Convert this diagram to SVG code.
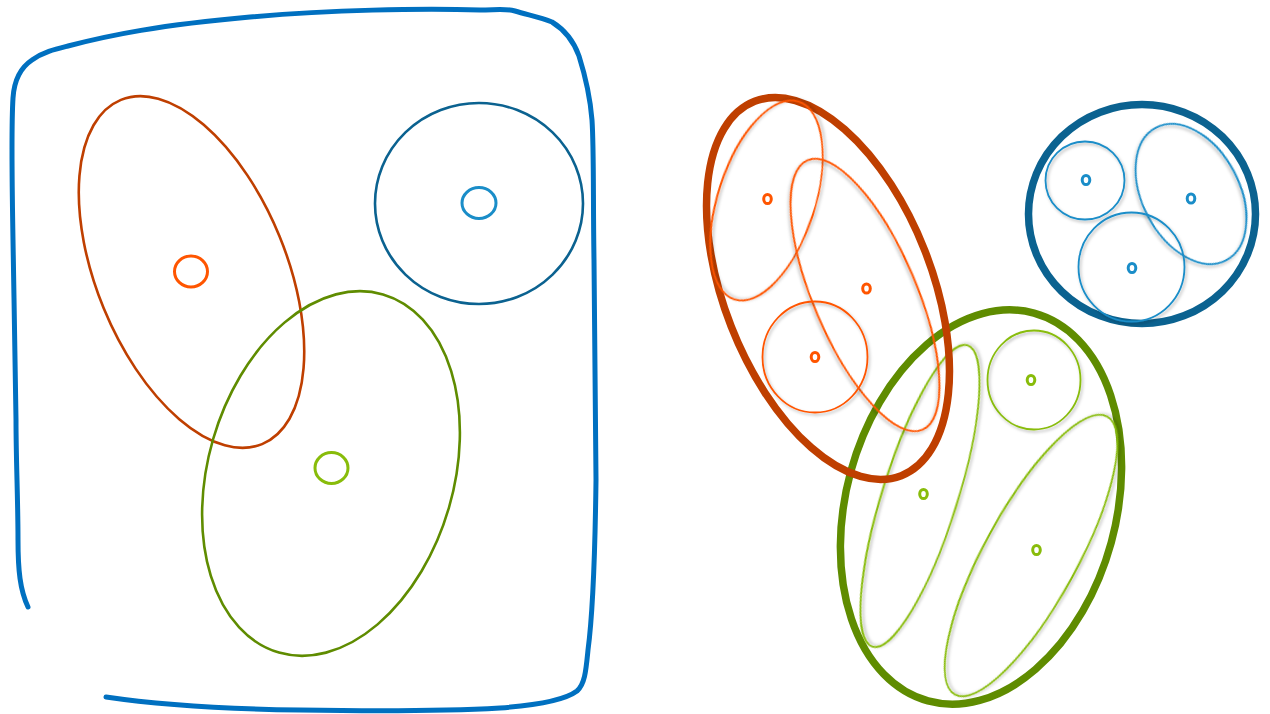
<svg xmlns="http://www.w3.org/2000/svg" width="1270" height="714" viewBox="0 0 1270 714">
<style>
.frame{fill:none;stroke:#0070C0;stroke-width:5;stroke-linecap:round;stroke-linejoin:round}
.l{fill:none;stroke-width:2.6}
.thick{fill:none;stroke-width:7.5}
.thin{fill:none;stroke-width:1.8;filter:url(#sh)}
.dot{fill:none;stroke-width:3}
.red{stroke:#BF3F00}.or{stroke:#FF5500}.db{stroke:#0B6290}.lb{stroke:#1A8DC8}.dg{stroke:#5F8C00}.lg{stroke:#88BC0A}
</style>
<defs>
<filter id="sh" x="-20%" y="-20%" width="140%" height="140%">
<feDropShadow dx="1.5" dy="2" stdDeviation="1.5" flood-color="#000" flood-opacity="0.28"/>
</filter>
</defs>
<rect width="1270" height="714" fill="#fff"/>
<g id="left">
<path class="frame" d="M28,607 C20,590 18,570 18,540 C18,500 16,460 16,420 C15,350 14,300 13,240 C12,180 11,130 13,98 C14,82 20,68 32,60 C43,52 56,49 68,46 C110,35 160,25 250,17 C330,10 420,8 480,10 C495,10 505,8 515,11 C528,15 540,17 552,22 C565,30 574,42 579,56 C585,75 590,95 592,120 C594,150 593,200 594,260 C595,340 596,420 596,480 C595,560 592,620 588,650 C586,670 585,684 577,691 C565,700 540,705 500,708 C430,712 360,711 300,710 C230,709 160,705 106,697"/>
<g id="redL"><ellipse class="l red" cx="191.5" cy="272" rx="186" ry="95" transform="rotate(67.7 191.5 272)"/>
<ellipse class="dot or" cx="191" cy="271.5" rx="16.5" ry="15.5"/></g>
<g id="blueL"><ellipse class="l db" cx="479" cy="203.5" rx="104" ry="100.5"/>
<ellipse class="dot lb" cx="479" cy="203" rx="17" ry="15.5"/></g>
<g id="greenL"><ellipse class="l dg" cx="331" cy="473.5" rx="186.5" ry="122.8" transform="rotate(-73.8 331 473.5)"/>
<ellipse class="dot lg" cx="331.5" cy="468" rx="16.5" ry="15.5"/></g>
</g>
<g id="right">
<g id="greenR">
<ellipse class="thick dg" cx="981" cy="507" rx="201" ry="135" transform="rotate(-74.7 981 507)"/>
<ellipse class="thin lg" cx="920" cy="496" rx="158" ry="37.5" transform="rotate(-72.5 920 496)"/>
<ellipse class="thin lg" cx="1034" cy="380" rx="46.5" ry="49.5"/>
<ellipse class="thin lg" cx="1031" cy="555.5" rx="158.5" ry="46.5" transform="rotate(-61.3 1031 555.5)"/>
<ellipse class="dot lg" cx="1031" cy="380" rx="3.8" ry="4.6"/>
<ellipse class="dot lg" cx="923.5" cy="494" rx="3.8" ry="4.6"/>
<ellipse class="dot lg" cx="1036.5" cy="550" rx="3.8" ry="4.6"/>
</g>
<g id="redR">
<ellipse class="thick red" cx="828" cy="288.5" rx="201" ry="104" transform="rotate(68.6 828 288.5)"/>
<ellipse class="thin or" cx="766.5" cy="200.5" rx="104" ry="48.5" transform="rotate(-72 766.5 200.5)"/>
<ellipse class="thin or" cx="865" cy="295" rx="146.5" ry="51.5" transform="rotate(66.9 865 295)"/>
<ellipse class="thin or" cx="815" cy="357" rx="52.5" ry="55.5"/>
<ellipse class="dot or" cx="767.5" cy="199" rx="3.8" ry="4.6"/>
<ellipse class="dot or" cx="866.5" cy="288.5" rx="3.8" ry="4.6"/>
<ellipse class="dot or" cx="815" cy="357" rx="3.8" ry="4.6"/>
</g>
<g id="blueR">
<ellipse class="thick db" cx="1142" cy="214" rx="113.5" ry="109.5"/>
<ellipse class="thin lb" cx="1085" cy="180.5" rx="39.5" ry="39"/>
<ellipse class="thin lb" cx="1191" cy="194" rx="75" ry="48.5" transform="rotate(62 1191 194)"/>
<ellipse class="thin lb" cx="1131.5" cy="267" rx="53" ry="54.5"/>
<ellipse class="dot lb" cx="1086" cy="180" rx="3.8" ry="4.6"/>
<ellipse class="dot lb" cx="1191" cy="198.5" rx="3.8" ry="4.6"/>
<ellipse class="dot lb" cx="1132" cy="268" rx="3.8" ry="4.6"/>
</g>
</g>
</svg>
